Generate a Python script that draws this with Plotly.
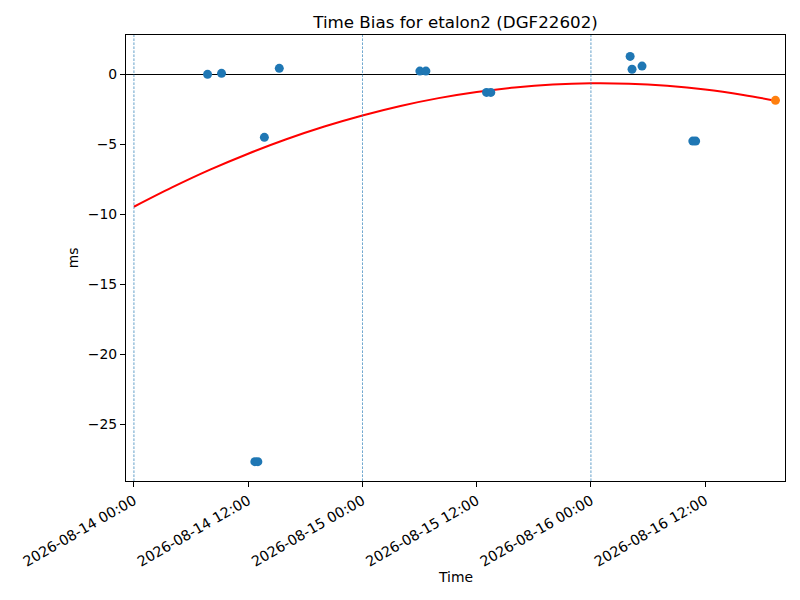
import plotly.graph_objects as go

# observed time bias samples (ms)
obs_time = [
    "2026-08-14 07:44", "2026-08-14 09:12", "2026-08-14 12:42", "2026-08-14 13:01",
    "2026-08-14 13:42", "2026-08-14 15:16", "2026-08-15 06:02", "2026-08-15 06:40",
    "2026-08-15 13:02", "2026-08-15 13:29", "2026-08-16 04:07", "2026-08-16 04:19",
    "2026-08-16 05:22", "2026-08-16 10:42", "2026-08-16 11:00",
]
obs_bias = [-0.02, 0.05, -27.69, -27.69, -4.52, 0.41, 0.21, 0.21,
            -1.31, -1.31, 1.26, 0.34, 0.57, -4.79, -4.79]

# last (predicted) point
last_time = ["2026-08-16 19:23"]
last_bias = [-1.88]

# fitted curve, every 4 hours
fit_time = [
    "2026-08-14 00:00", "2026-08-14 04:00", "2026-08-14 08:00", "2026-08-14 12:00",
    "2026-08-14 16:00", "2026-08-14 20:00", "2026-08-15 00:00", "2026-08-15 04:00",
    "2026-08-15 08:00", "2026-08-15 12:00", "2026-08-15 16:00", "2026-08-15 20:00",
    "2026-08-16 00:00", "2026-08-16 04:00", "2026-08-16 08:00", "2026-08-16 12:00",
    "2026-08-16 16:00", "2026-08-16 19:23",
]
fit_bias = [-9.48, -8.10, -6.83, -5.69, -4.66, -3.75, -2.96, -2.28, -1.72,
            -1.28, -0.96, -0.75, -0.66, -0.69, -0.84, -1.10, -1.49, -1.90]

day_marks = ["2026-08-14 00:00", "2026-08-15 00:00", "2026-08-16 00:00"]

x_range = ["2026-08-13 23:10", "2026-08-16 20:23"]
y_range = [-29.07, 2.79]
y_ticks = [0, -5, -10, -15, -20, -25]

BLUE = "#1f77b4"
ORANGE = "#ff7f0e"
TXT = "#000000"
FONT = "DejaVu Sans"

# page body has an 8px margin, so the figure is 8px smaller and the margins shifted
W, H = 792, 592
PL, PT, PR, PB = 115, 27, 15, 119  # plot box: 123..785 x 35..481 on the page

fig = go.Figure()

fig.add_trace(go.Scatter(  # fit
    x=fit_time, y=fit_bias,
    mode="lines",
    line=dict(color="#ff0000", width=2, shape="spline"),
))

fig.add_trace(go.Scatter(  # observations
    x=obs_time, y=obs_bias,
    mode="markers",
    marker=dict(color=BLUE, size=9, line=dict(width=0)),
))

fig.add_trace(go.Scatter(  # last point
    x=last_time, y=last_bias,
    mode="markers",
    marker=dict(color=ORANGE, size=9, line=dict(width=0)),
))

for d in day_marks:
    fig.add_vline(x=d, line=dict(color=BLUE, width=0.8, dash="2.6px,1.4px"), opacity=0.85)

fig.update_xaxes(
    type="date",
    range=x_range,
    dtick=12 * 3600 * 1000,
    tick0="2026-08-14 00:00",
    tickformat="%Y-%m-%d %H:%M",
    tickangle=-30,
    ticks="outside", ticklen=5, tickwidth=1.1, tickcolor=TXT,
    showline=True, linecolor=TXT, linewidth=1.1, mirror=True,
    showgrid=False, zeroline=False,
    tickfont=dict(size=14.2, color=TXT),
)

fig.update_yaxes(
    range=y_range,
    tickvals=y_ticks,
    ticks="outside", ticklen=5, tickwidth=1.1, tickcolor=TXT,
    showline=True, linecolor=TXT, linewidth=1.1, mirror=True,
    showgrid=False,
    zeroline=True, zerolinecolor=TXT, zerolinewidth=1,
    tickfont=dict(size=13.9, color=TXT),
)

plot_w = W - PL - PR
plot_h = H - PT - PB

fig.update_layout(
    width=W, height=H,
    margin=dict(l=PL, r=PR, t=PT, b=PB, pad=0),
    paper_bgcolor="white", plot_bgcolor="white",
    font=dict(family=FONT, size=13.9, color=TXT),
    showlegend=False,
    title=dict(
        text="Time Bias for etalon2 (DGF22602)",
        x=0.5, xref="paper", xanchor="center",
        y=1 - 14 / H, yref="container", yanchor="middle",
        font=dict(size=16.7, color=TXT),
    ),
)

fig.add_annotation(
    text="Time", xref="paper", yref="paper", x=0.5, y=-96 / plot_h,
    xanchor="center", yanchor="middle", showarrow=False, font=dict(size=13.9),
)
fig.add_annotation(
    text="ms", xref="paper", yref="paper", x=-53 / plot_w, y=0.5, textangle=-90,
    xanchor="center", yanchor="middle", showarrow=False, font=dict(size=13.9),
)

fig.write_html("out.html")
